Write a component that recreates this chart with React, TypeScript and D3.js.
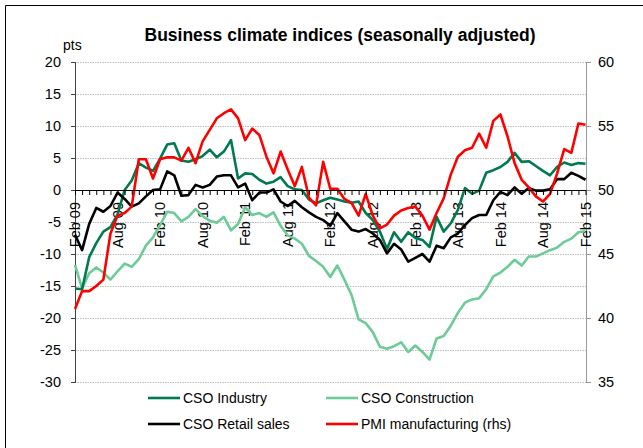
import React from "react";
import * as d3 from "d3";

const monthTickLabels = ["Feb 09", "Aug 09", "Feb 10", "Aug 10", "Feb 11", "Aug 11", "Feb 12", "Aug 12", "Feb 13", "Aug 13", "Feb 14", "Aug 14", "Feb 15"];
const leftTicks = [20, 15, 10, 5, 0, -5, -10, -15, -20, -25, -30];
const rightTicks = [60, 55, 50, 45, 40, 35];

const csoIndustry = [
  -15.4, -15.5, -10.5, -8.3, -6.5, -5.8, -3.8, 0.0, 1.5, 4.2, 3.5, 3.0,
  4.9, 7.1, 7.3, 4.6, 4.4, 4.8, 5.3, 6.3, 5.1, 6.0, 7.8, 1.8,
  2.6, 2.5, 1.6, 1.0, 1.3, 2.0, 0.6, 0.1, 0.0, -1.5, -2.1, -1.6,
  -1.2, -1.5, -1.8, -2.0, -1.8, -3.6, -4.7, -6.5, -9.2, -6.6, -8.1, -6.6,
  -7.5, -7.8, -8.9, -4.2, -6.5, -5.2, -3.1, 0.3, -0.6, -0.1, 2.7, 3.1,
  3.6, 4.4, 5.8, 4.4, 4.5, 3.75, 3.0, 2.3, 3.6, 4.3, 3.9, 4.2,
  4.1,
];
const csoConstruction = [
  -11.7, -15.4, -13.0, -12.1, -12.9, -14.0, -12.7, -11.5, -12.0, -10.8, -8.7, -7.4,
  -5.5, -3.4, -3.6, -4.9, -4.2, -3.0, -4.1, -4.8, -5.1, -4.2, -6.3, -5.3,
  -2.7, -3.9, -3.6, -4.2, -3.5, -5.6, -7.1, -7.6, -8.4, -10.3, -11.1, -12.0,
  -13.6, -11.8, -14.0, -16.4, -20.2, -20.8, -22.2, -24.5, -24.8, -24.4, -23.8, -25.3,
  -24.3, -25.3, -26.5, -23.2, -22.8, -21.2, -19.2, -17.6, -17.1, -16.9, -15.5, -13.5,
  -12.9, -12.0, -10.9, -11.8, -10.4, -10.4, -9.9, -9.4, -9.0, -8.1, -7.6, -6.6,
  -6.4,
];
const csoRetail = [
  -7.0, -9.4, -5.3, -2.8, -3.4, -2.5, -0.4, -1.4, -2.6, -2.1, -1.0, 0.0,
  0.1, 2.9, 2.3, -0.9, -0.8, 0.8, 0.4, 0.8, 2.1, 2.3, 2.3, 0.4,
  1.0, -1.6, -0.4, -0.4, 0.1, -1.8, -2.5, -1.7, -2.7, -3.5, -4.2, -4.7,
  -5.6, -3.6, -4.9, -6.2, -6.5, -6.1, -6.8, -7.8, -9.9, -8.4, -9.3, -11.2,
  -10.6, -10.0, -11.2, -8.7, -9.1, -7.4, -6.8, -5.5, -4.4, -3.9, -3.9, -1.6,
  -0.3, -0.8, 0.4, -0.6, 0.3, -0.1, -0.1, 0.1, 1.7, 1.7, 2.7, 2.2,
  1.6,
];
const pmiManufacturing = [
  40.7, 42.1, 42.1, 42.5, 43.0, 46.6, 48.0, 48.2, 48.7, 52.4, 52.4, 50.9,
  52.4, 52.55, 52.55, 52.3, 53.3, 52.1, 53.8, 54.7, 55.6, 56.0, 56.3, 55.6,
  53.9, 54.8, 54.3, 52.6, 51.3, 53.0, 51.6, 50.3, 51.8, 49.4, 48.8, 52.2,
  50.1, 50.1, 49.3, 49.0, 48.0, 49.7, 48.0, 47.0, 47.3, 48.0, 48.4, 48.6,
  48.7, 48.0, 46.9, 48.2, 49.35, 51.2, 52.6, 53.1, 53.3, 54.4, 53.3, 55.4,
  55.9, 54.2, 52.1, 50.8, 50.2, 49.5, 49.1, 49.7, 51.3, 53.2, 52.9, 55.2,
  55.1,
];

const seriesNames = ["CSO Industry", "CSO Construction", "CSO Retail sales", "PMI manufacturing (rhs)"];
const seriesColors = ["#007A4E", "#6CCB96", "#000000", "#FF0000"];

const FONT = "'Liberation Sans', Arial, Helvetica, sans-serif";

export default function App() {
  const W = 643, H = 448;
  const x0 = 75, x1 = 585.5, yTop = 62, yBot = 382;
  const n = csoIndustry.length;
  const x = d3.scaleLinear().domain([0, n - 1]).range([x0, x1]);
  const yL = d3.scaleLinear().domain([-30, 20]).range([yBot, yTop]);
  const yR = d3.scaleLinear().domain([35, 60]).range([yBot, yTop]);

  const lineL = d3.line<number>().x((_, i) => x(i)).y((d) => yL(d));
  const lineR = d3.line<number>().x((_, i) => x(i)).y((d) => yR(d));

  const y0 = yL(0);
  const monthIdx = d3.range(n);

  const legend = [
    { name: seriesNames[0], color: seriesColors[0], lx: 148, ly: 398 },
    { name: seriesNames[1], color: seriesColors[1], lx: 326, ly: 398 },
    { name: seriesNames[2], color: seriesColors[2], lx: 148, ly: 424 },
    { name: seriesNames[3], color: seriesColors[3], lx: 326, ly: 424 },
  ];

  return (
    <svg width={W} height={H} style={{ position: "absolute", left: 0, top: 0, background: "#fff" }} fontFamily={FONT}>
      <rect x={0} y={0} width={W} height={H} fill="#fff" />
      {/* frame */}
      <line x1={5.5} y1={5.5} x2={W} y2={5.5} stroke="#000" strokeWidth={1} />
      <line x1={5.5} y1={5.5} x2={5.5} y2={H} stroke="#000" strokeWidth={1} />

      {/* title */}
      <text x={340} y={41} textAnchor="middle" fontWeight="bold" fontSize={17.5} fill="#000">
        Business climate indices (seasonally adjusted)
      </text>
      <text x={63} y={50} fontSize={14} fill="#000">pts</text>

      {/* gridlines */}
      {leftTicks.filter((t) => t !== 0).map((t) => (
        <line key={"g" + t} x1={x0} x2={586} y1={yL(t) + 0.5} y2={yL(t) + 0.5} stroke="#bdbdbd" strokeWidth={1} strokeDasharray="1.5,1" />
      ))}

      {/* left axis */}
      <line x1={x0 + 0.5} x2={x0 + 0.5} y1={yTop} y2={yBot + 1} stroke="#404040" strokeWidth={1} />
      {leftTicks.map((t) => (
        <g key={"l" + t}>
          <line x1={x0 - 4} x2={x0} y1={yL(t) + 0.5} y2={yL(t) + 0.5} stroke="#404040" />
          <text x={61} y={yL(t)} dy="0.36em" textAnchor="end" fontSize={14.5} fill="#000">{t}</text>
        </g>
      ))}

      {/* right axis */}
      <line x1={586.5} x2={586.5} y1={yTop} y2={yBot + 1} stroke="#9a9a9a" strokeWidth={1} />
      {rightTicks.map((t) => (
        <g key={"r" + t}>
          <line x1={587} x2={591} y1={yR(t) + 0.5} y2={yR(t) + 0.5} stroke="#9a9a9a" />
          <text x={598} y={yR(t)} dy="0.36em" textAnchor="start" fontSize={14.5} fill="#000">{t}</text>
        </g>
      ))}

      {/* x labels (under the lines) */}
      {monthTickLabels.map((lab, k) => {
        const xi = x(k * 6);
        return (
          <text key={lab} transform={`translate(${xi},${y0 + 12}) rotate(-90)`} dy="0.36em" textAnchor="end" fontSize={14.5} fill="#000">
            {lab}
          </text>
        );
      })}

      {/* series */}
      <path d={lineL(csoConstruction) || ""} fill="none" stroke={seriesColors[1]} strokeWidth={2.6} strokeLinejoin="round" />
      <path d={lineL(csoIndustry) || ""} fill="none" stroke={seriesColors[0]} strokeWidth={2.6} strokeLinejoin="round" />
      <path d={lineL(csoRetail) || ""} fill="none" stroke={seriesColors[2]} strokeWidth={2.6} strokeLinejoin="round" />
      <path d={lineR(pmiManufacturing) || ""} fill="none" stroke={seriesColors[3]} strokeWidth={2.6} strokeLinejoin="round" />

      {/* x axis at zero */}
      <line x1={x0} x2={586} y1={y0 + 0.5} y2={y0 + 0.5} stroke="#000" strokeWidth={1.2} />
      {monthIdx.map((i) => (
        <line key={"t" + i} x1={x(i) + 0.5} x2={x(i) + 0.5} y1={y0} y2={y0 + 5} stroke="#000" strokeWidth={1} />
      ))}

      {/* legend */}
      {legend.map((l) => (
        <g key={l.name}>
          <line x1={l.lx} x2={l.lx + 32} y1={l.ly} y2={l.ly} stroke={l.color} strokeWidth={2.6} />
          <text x={l.lx + 35} y={l.ly} dy="0.35em" fontSize={14} fill="#000">{l.name}</text>
        </g>
      ))}
    </svg>
  );
}
